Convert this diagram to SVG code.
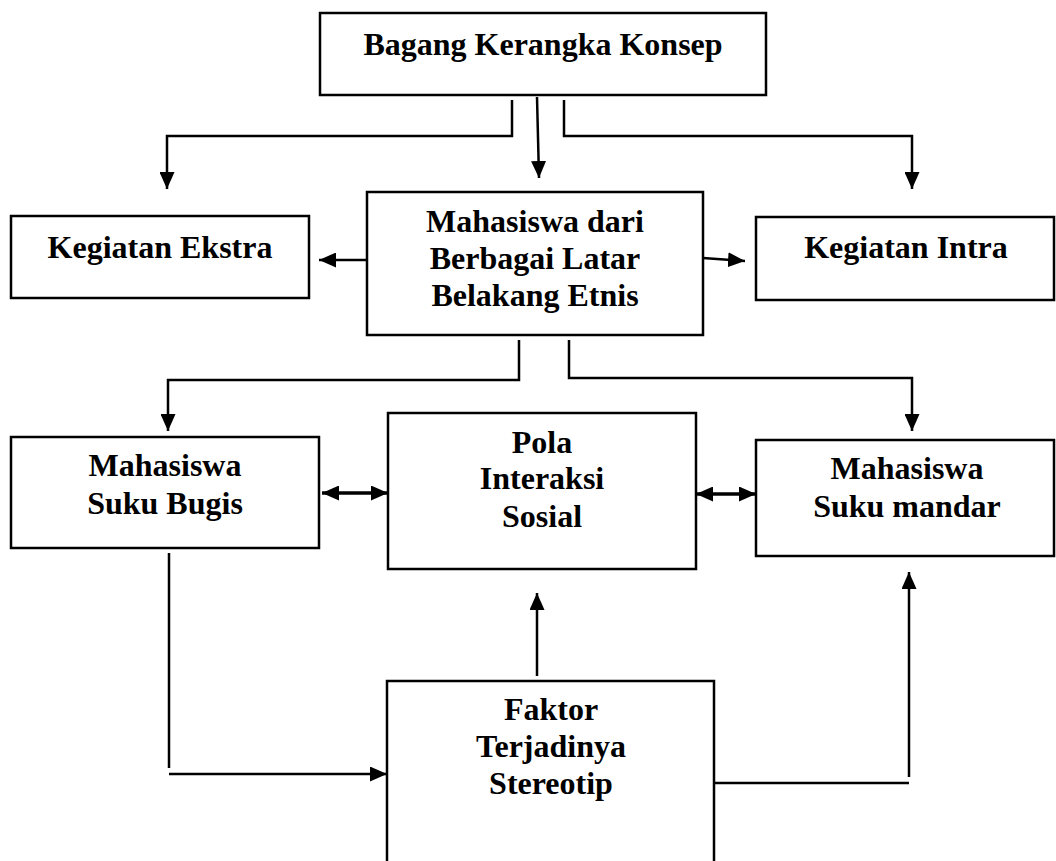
<svg xmlns="http://www.w3.org/2000/svg" width="1056" height="861" viewBox="0 0 1056 861">
<style>
.box{fill:#fff;stroke:#000;stroke-width:2.5}
.lbl{font-family:"Liberation Serif","Times New Roman",serif;font-weight:bold;font-size:32px;fill:#000;text-anchor:middle}
.c{fill:none;stroke:#000;stroke-width:2.5}
.a{marker-end:url(#ah)}
.d{stroke-width:3.5;marker-start:url(#ah);marker-end:url(#ah)}
</style>
<defs>
<marker id="ah" markerUnits="userSpaceOnUse" markerWidth="17" markerHeight="15" refX="17" refY="7.5" orient="auto-start-reverse" viewBox="0 0 17 15">
<path d="M0,0 L17,7.5 L0,15 Z" fill="#000"/>
</marker>
</defs>
<rect width="1056" height="861" fill="#fff"/>
<g id="connectors">
<polyline class="c a" points="512,100 512,136 167,136 167,189"/>
<line class="c a" x1="537" y1="97" x2="539" y2="178"/>
<polyline class="c a" points="564,100 564,136 912,136 912,189"/>
<line class="c a" x1="367" y1="260" x2="319" y2="260"/>
<line class="c a" x1="703" y1="258" x2="745" y2="261"/>
<polyline class="c a" points="519,340 519,380 168,380 168,431"/>
<polyline class="c a" points="569,340 569,378 912,378 912,431"/>
<line class="c d" x1="322" y1="493" x2="388" y2="493"/>
<line class="c d" x1="696" y1="494" x2="756" y2="494"/>
<line class="c" x1="169" y1="553" x2="169" y2="768"/>
<line class="c a" x1="169" y1="774" x2="387" y2="774"/>
<line class="c a" x1="537" y1="676" x2="537" y2="593"/>
<line class="c" x1="714" y1="783" x2="909" y2="783"/>
<line class="c a" x1="909" y1="777" x2="909" y2="572"/>
</g>
<g id="n-top">
<rect class="box" x="320" y="13" width="446" height="82"/>
<text class="lbl" x="543" y="55">Bagang Kerangka Konsep</text>
</g>
<g id="n-mahasiswa">
<rect class="box" x="367" y="192" width="336" height="143"/>
<text class="lbl" x="535" y="232">Mahasiswa dari</text>
<text class="lbl" x="535" y="269">Berbagai Latar</text>
<text class="lbl" x="535" y="306">Belakang Etnis</text>
</g>
<g id="n-ekstra">
<rect class="box" x="11" y="216" width="298" height="82"/>
<text class="lbl" x="160" y="258">Kegiatan Ekstra</text>
</g>
<g id="n-intra">
<rect class="box" x="756" y="217" width="298" height="83"/>
<text class="lbl" x="906" y="258">Kegiatan Intra</text>
</g>
<g id="n-bugis">
<rect class="box" x="11" y="437" width="308" height="111"/>
<text class="lbl" x="165" y="476">Mahasiswa</text>
<text class="lbl" x="165" y="514">Suku Bugis</text>
</g>
<g id="n-pola">
<rect class="box" x="388" y="413" width="308" height="156"/>
<text class="lbl" x="542" y="453">Pola</text>
<text class="lbl" x="542" y="489">Interaksi</text>
<text class="lbl" x="542" y="527">Sosial</text>
</g>
<g id="n-mandar">
<rect class="box" x="756" y="440" width="298" height="116"/>
<text class="lbl" x="907" y="479">Mahasiswa</text>
<text class="lbl" x="907" y="517">Suku mandar</text>
</g>
<g id="n-faktor">
<rect class="box" x="387" y="681" width="327" height="200"/>
<text class="lbl" x="551" y="720">Faktor</text>
<text class="lbl" x="551" y="757">Terjadinya</text>
<text class="lbl" x="551" y="794">Stereotip</text>
</g>
</svg>
